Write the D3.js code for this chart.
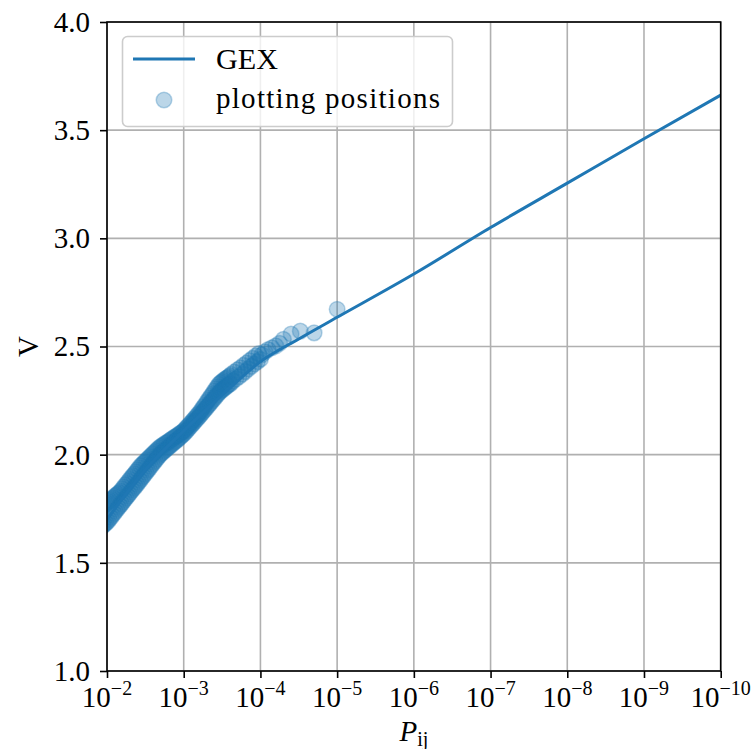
<!DOCTYPE html>
<html>
<head>
<meta charset="utf-8">
<script src="https://cdn.jsdelivr.net/npm/d3@7"></script>
<style>
  body { margin: 0; background: #fff; }
  svg text { font-family: "Liberation Serif", "Times New Roman", serif; fill: #000; }
</style>
</head>
<body>
<script>
// x ticks (exceedance probability, as powers of ten), y ticks
var xTickExp = [-2, -3, -4, -5, -6, -7, -8, -9, -10];
var yTicks = [1.0, 1.5, 2.0, 2.5, 3.0, 3.5, 4.0];

// fitted GEX curve: log10(P) and V
var gexExp = [-2, -2.5, -3, -3.5, -4, -4.5, -5, -6, -7, -8, -9, -10];
var gexV   = [1.70, 1.93, 2.11, 2.275, 2.43, 2.535, 2.635, 2.835, 3.05, 3.255, 3.46, 3.662];

// plotting positions, dense part: log10(P) with upper and lower V of the cloud
var denseExp = [-1.90, -1.92, -1.94, -1.96, -1.98, -2.00, -2.02, -2.04, -2.06, -2.08,
  -2.10, -2.12, -2.14, -2.16, -2.18, -2.20, -2.22, -2.24, -2.26, -2.28,
  -2.30, -2.32, -2.34, -2.36, -2.38, -2.40, -2.42, -2.44, -2.46, -2.48,
  -2.50, -2.52, -2.54, -2.56, -2.58, -2.60, -2.62, -2.64, -2.66, -2.68,
  -2.70, -2.72, -2.74, -2.76, -2.78, -2.80, -2.82, -2.84, -2.86, -2.88,
  -2.90, -2.92, -2.94, -2.96, -2.98, -3.00, -3.02, -3.04, -3.06, -3.08,
  -3.10, -3.12, -3.14, -3.16, -3.18, -3.20, -3.22, -3.24, -3.26, -3.28,
  -3.30, -3.32, -3.34, -3.36, -3.38, -3.40, -3.42, -3.44, -3.46, -3.48,
  -3.50, -3.52, -3.54, -3.56, -3.58, -3.60];
var denseHi = [1.747, 1.753, 1.759, 1.765, 1.771, 1.777, 1.783, 1.789, 1.795, 1.801,
  1.807, 1.813, 1.819, 1.825, 1.832, 1.841, 1.850, 1.859, 1.868, 1.877,
  1.886, 1.895, 1.904, 1.912, 1.921, 1.930, 1.939, 1.948, 1.955, 1.962,
  1.969, 1.976, 1.983, 1.990, 1.997, 2.004, 2.011, 2.018, 2.025, 2.032,
  2.037, 2.042, 2.047, 2.052, 2.056, 2.061, 2.066, 2.071, 2.076, 2.081,
  2.085, 2.090, 2.095, 2.100, 2.105, 2.110, 2.118, 2.126, 2.134, 2.142,
  2.150, 2.158, 2.166, 2.174, 2.183, 2.191, 2.200, 2.211, 2.221, 2.231,
  2.242, 2.252, 2.263, 2.273, 2.283, 2.294, 2.304, 2.315, 2.325, 2.332,
  2.338, 2.344, 2.349, 2.354, 2.359, 2.364];
var denseLo = [1.657, 1.663, 1.669, 1.675, 1.681, 1.687, 1.696, 1.705, 1.715, 1.724,
  1.733, 1.742, 1.751, 1.760, 1.769, 1.778, 1.787, 1.796, 1.805, 1.814,
  1.823, 1.832, 1.841, 1.849, 1.858, 1.867, 1.876, 1.886, 1.895, 1.904,
  1.913, 1.922, 1.931, 1.940, 1.950, 1.959, 1.968, 1.977, 1.986, 1.995,
  2.003, 2.009, 2.015, 2.021, 2.027, 2.034, 2.040, 2.046, 2.052, 2.058,
  2.064, 2.070, 2.076, 2.083, 2.089, 2.095, 2.103, 2.111, 2.119, 2.127,
  2.136, 2.144, 2.152, 2.160, 2.168, 2.176, 2.184, 2.193, 2.201, 2.210,
  2.218, 2.227, 2.235, 2.244, 2.252, 2.261, 2.269, 2.278, 2.286, 2.293,
  2.299, 2.305, 2.310, 2.316, 2.322, 2.328];

// plotting positions, thinning part: upper and lower V
var midExp = [-3.62, -3.66, -3.70, -3.74, -3.78, -3.82, -3.86, -3.90, -3.94, -3.98];
var midHi  = [2.372, 2.382, 2.392, 2.402, 2.413, 2.424, 2.435, 2.446, 2.457, 2.467];
var midLo  = [2.340, 2.350, 2.360, 2.372, 2.384, 2.396, 2.408, 2.419, 2.430, 2.441];

// plotting positions, sparse tail
var tailExp = [-4.02, -4.06, -4.10, -4.15, -4.20, -4.25, -4.30, -4.40, -4.52, -4.70, -5.00];
var tailV   = [2.462, 2.476, 2.486, 2.494, 2.503, 2.515, 2.533, 2.558, 2.571, 2.563, 2.672];

var W = 756, H = 749;
var margin = { top: 22, right: 35.3, bottom: 78, left: 107 };
var width = W - margin.left - margin.right,
    height = H - margin.top - margin.bottom;

var svg = d3.select("body").append("svg")
  .attr("width", W)
  .attr("height", H);

var g = svg.append("g")
  .attr("transform", "translate(" + margin.left + "," + margin.top + ")");

var x = d3.scaleLog().domain([1e-2, 1e-10]).range([0, width]);
var y = d3.scaleLinear().domain([1, 4]).range([height, 0]);

g.append("defs").append("clipPath")
  .attr("id", "clip")
  .append("rect")
  .attr("width", width)
  .attr("height", height);

// grid
g.append("g").selectAll("line")
  .data(xTickExp)
  .enter().append("line")
  .attr("x1", function(d) { return x(Math.pow(10, d)); })
  .attr("x2", function(d) { return x(Math.pow(10, d)); })
  .attr("y1", 0).attr("y2", height)
  .attr("stroke", "#b0b0b0").attr("stroke-width", 1.6);

g.append("g").selectAll("line")
  .data(yTicks)
  .enter().append("line")
  .attr("y1", function(d) { return y(d); })
  .attr("y2", function(d) { return y(d); })
  .attr("x1", 0).attr("x2", width)
  .attr("stroke", "#b0b0b0").attr("stroke-width", 1.6);

// plotting positions (drawn under the line)
var pts = [];
denseExp.forEach(function(e, i) {
  pts.push({ p: Math.pow(10, e), v: denseHi[i] });
  pts.push({ p: Math.pow(10, e - 0.01), v: (denseLo[i] + (denseLo[i + 1] || denseLo[i])) / 2 });
});
midExp.forEach(function(e, i) {
  pts.push({ p: Math.pow(10, e), v: midHi[i] });
  pts.push({ p: Math.pow(10, e - 0.02), v: midLo[i] });
});
tailExp.forEach(function(e, i) { pts.push({ p: Math.pow(10, e), v: tailV[i] }); });

g.append("g")
  .attr("clip-path", "url(#clip)")
  .selectAll("circle")
  .data(pts)
  .enter().append("circle")
  .attr("cx", function(d) { return x(d.p); })
  .attr("cy", function(d) { return y(d.v); })
  .attr("r", 7.8)
  .attr("fill", "rgba(31,119,180,0.3)")
  .attr("stroke", "rgba(31,119,180,0.3)")
  .attr("stroke-width", 1.5);

// GEX line
var gex = gexExp.map(function(e, i) { return { p: Math.pow(10, e), v: gexV[i] }; });
var line = d3.line()
  .x(function(d) { return x(d.p); })
  .y(function(d) { return y(d.v); })
  .curve(d3.curveMonotoneX);

g.append("path")
  .datum(gex)
  .attr("clip-path", "url(#clip)")
  .attr("d", line)
  .attr("fill", "none")
  .attr("stroke", "#1f77b4")
  .attr("stroke-width", 3);

// axes
var xAxis = d3.axisBottom(x)
  .tickValues(xTickExp.map(function(e) { return Math.pow(10, e); }))
  .tickFormat("")
  .tickSize(7);
var yAxis = d3.axisLeft(y)
  .tickValues(yTicks)
  .tickFormat("")
  .tickSize(7);

var gx = g.append("g")
  .attr("transform", "translate(0," + height + ")")
  .call(xAxis);
var gy = g.append("g").call(yAxis);
[gx, gy].forEach(function(a) {
  a.select(".domain").remove();
  a.selectAll(".tick line").attr("stroke", "#000").attr("stroke-width", 1.6);
});

// x tick labels: 10^{-n}
xTickExp.forEach(function(e) {
  var t = g.append("text")
    .attr("x", x(Math.pow(10, e)))
    .attr("y", height + 36)
    .attr("text-anchor", "middle")
    .style("font-size", "29px");
  t.append("tspan").text("10");
  t.append("tspan")
    .attr("dy", -12)
    .style("font-size", "20px")
    .text("\u2212" + Math.abs(e));
});

// y tick labels
g.selectAll("text.ylab")
  .data(yTicks)
  .enter().append("text")
  .attr("x", -17)
  .attr("y", function(d) { return y(d); })
  .attr("dy", "0.34em")
  .attr("text-anchor", "end")
  .style("font-size", "29px")
  .text(function(d) { return d.toFixed(1); });

// frame
g.append("rect")
  .attr("width", width)
  .attr("height", height)
  .attr("fill", "none")
  .attr("stroke", "#000")
  .attr("stroke-width", 1.6);

// axis labels
var xl = svg.append("text")
  .attr("x", margin.left + width / 2)
  .attr("y", 741)
  .attr("text-anchor", "middle")
  .style("font-size", "29px");
xl.append("tspan").style("font-style", "italic").text("P");
xl.append("tspan").attr("dy", 5).style("font-size", "20px").text("ij");

svg.append("text")
  .attr("transform", "translate(38," + (margin.top + height / 2) + ") rotate(-90)")
  .attr("text-anchor", "middle")
  .style("font-size", "29px")
  .text("V");

// legend
var lg = svg.append("g");
lg.append("rect")
  .attr("x", 122.5).attr("y", 36.5)
  .attr("width", 330).attr("height", 90)
  .attr("rx", 5)
  .attr("fill", "rgba(255,255,255,0.8)")
  .attr("stroke", "#cccccc")
  .attr("stroke-width", 1.6);
lg.append("line")
  .attr("x1", 133).attr("x2", 195)
  .attr("y1", 59).attr("y2", 59)
  .attr("stroke", "#1f77b4").attr("stroke-width", 3);
lg.append("circle")
  .attr("cx", 164).attr("cy", 100)
  .attr("r", 7.8)
  .attr("fill", "rgba(31,119,180,0.3)")
  .attr("stroke", "rgba(31,119,180,0.3)")
  .attr("stroke-width", 1.5);
lg.append("text")
  .attr("x", 216).attr("y", 69)
  .attr("textLength", 62)
  .attr("lengthAdjust", "spacingAndGlyphs")
  .style("font-size", "29px")
  .text("GEX");
lg.append("text")
  .attr("x", 216).attr("y", 108)
  .attr("textLength", 224)
  .attr("lengthAdjust", "spacing")
  .style("font-size", "29px")
  .text("plotting positions");
</script>
</body>
</html>
